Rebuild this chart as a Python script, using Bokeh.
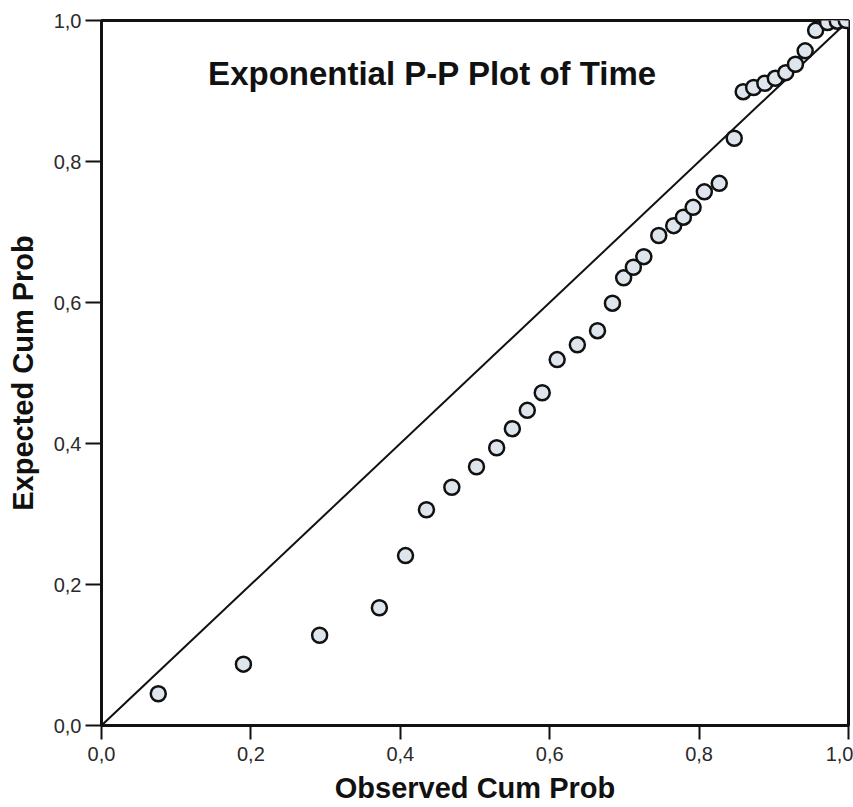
from bokeh.plotting import figure
from bokeh.models import Range1d, FixedTicker, CustomJSTickFormatter, Label, ColumnDataSource
from bokeh.embed import file_html
from bokeh.resources import INLINE

# Data
observed_cum_prob = [0.076, 0.190, 0.292, 0.372, 0.407, 0.435, 0.469, 0.502, 0.529, 0.550,
                     0.570, 0.590, 0.610, 0.637, 0.664, 0.684, 0.699, 0.712, 0.726, 0.746,
                     0.766, 0.779, 0.792, 0.807, 0.827, 0.847, 0.859, 0.873, 0.888, 0.902,
                     0.916, 0.929, 0.942, 0.956, 0.972, 0.985, 0.997]
expected_cum_prob = [0.045, 0.087, 0.128, 0.167, 0.241, 0.306, 0.338, 0.367, 0.394, 0.421,
                     0.447, 0.472, 0.519, 0.540, 0.560, 0.599, 0.635, 0.650, 0.665, 0.695,
                     0.709, 0.721, 0.735, 0.757, 0.769, 0.833, 0.899, 0.905, 0.911, 0.918,
                     0.926, 0.938, 0.957, 0.986, 0.997, 0.999, 1.000]
reference_line_x = [0.0, 1.0]
reference_line_y = [0.0, 1.0]
tick_values = [0.0, 0.2, 0.4, 0.6, 0.8, 1.0]

title_text = "Exponential P-P Plot of Time"
x_title = "Observed Cum Prob"
y_title = "Expected Cum Prob"

FONT = "Liberation Sans"

p = figure(width=853, height=807, output_backend="svg", toolbar_location=None,
           x_range=Range1d(0, 1), y_range=Range1d(0, 1),
           min_border_left=101, min_border_right=5, min_border_top=20, min_border_bottom=82)
p.grid.visible = False
p.background_fill_color = "white"
p.border_fill_color = "white"
p.outline_line_color = "#111111"
p.outline_line_width = 3

fmt = CustomJSTickFormatter(code="return tick.toFixed(1).replace('.', ',');")
for ax in (p.xaxis[0], p.yaxis[0]):
    ax.ticker = FixedTicker(ticks=tick_values)
    ax.formatter = fmt
    ax.axis_line_color = "#111111"
    ax.axis_line_width = 3
    ax.major_tick_line_color = "#111111"
    ax.major_tick_line_width = 2
    ax.major_tick_in = 0
    ax.minor_tick_line_color = None
    ax.major_label_text_font = FONT
    ax.major_label_text_font_size = "20px"
    ax.major_label_text_color = "#2a2a2a"
    ax.axis_label_text_font = FONT
    ax.axis_label_text_font_style = "bold"
    ax.axis_label_text_font_size = "29px"
    ax.axis_label_text_color = "#111111"

p.xaxis.major_tick_out = 14
p.xaxis.major_label_standoff = 7
p.xaxis.axis_label_standoff = 8
p.yaxis.major_tick_out = 16
p.yaxis.major_label_standoff = 4
p.yaxis.axis_label_standoff = 12
p.xaxis.axis_label = x_title
p.yaxis.axis_label = y_title

p.line(reference_line_x, reference_line_y, line_color="#111111", line_width=2)

src = ColumnDataSource(data=dict(x=observed_cum_prob, y=expected_cum_prob))
p.scatter("x", "y", source=src, size=15, marker="circle",
          fill_color="#dfe5ec", line_color="#111111", line_width=2.5)

title = Label(x=0.443, y=0.925, text=title_text, text_align="center", text_baseline="middle",
              text_font=FONT, text_font_style="bold", text_font_size="33px", text_color="#111111")
p.add_layout(title)

open("out.html", "w").write(file_html(p, INLINE))
